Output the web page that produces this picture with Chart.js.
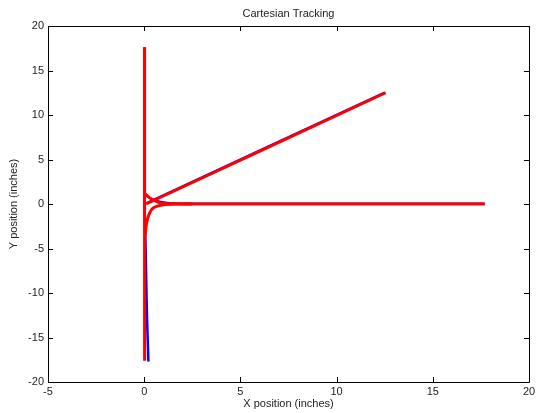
<!DOCTYPE html>
<html>
<head>
<meta charset="utf-8">
<script src="https://cdn.jsdelivr.net/npm/chart.js@4.4.0/dist/chart.umd.min.js"></script>
<style>
html,body{margin:0;padding:0;background:#fff;}
#wrap{width:543px;height:413px;}
</style>
</head>
<body>
<div id="wrap"><canvas id="c" width="543" height="413"></canvas></div>
<script>
// Data
const chartTitle = "Cartesian Tracking";
const xTitle = "X position (inches)";
const yTitle = "Y position (inches)";
const xTicks = [-5, 0, 5, 10, 15, 20];
const yTicks = [-20, -15, -10, -5, 0, 5, 10, 15, 20];

// Red (measured) paths
const redVertX = [0.02, 0.02, 0.02];
const redVertY = [-17.6, 0, 17.6];
const redDiagX = [0.1, 12.55];
const redDiagY = [0.0, 12.5];
const redUpperX = [0.02, 0.25, 0.5, 0.85, 1.5, 2.5, 17.7];
const redUpperY = [1.2, 0.75, 0.42, 0.12, 0.02, 0.0, 0.0];
const redLowerX = [0.05, 0.12, 0.26, 0.5, 0.94, 1.8, 2.5];
const redLowerY = [-3.5, -2.2, -1.1, -0.4, -0.1, 0.0, 0.0];

// Blue (reference) paths, mostly hidden below the red ones
const blueVertX = [0.22, 0.15, 0.1, 0.06, 0.02, 0.02];
const blueVertY = [-17.7, -13, -8, -3.5, 0, 17.6];
const blueDiagX = [0.1, 12.5];
const blueDiagY = [0.1, 12.55];
const blueHorzX = [0.02, 0.5, 1.5, 2.5, 17.7];
const blueHorzY = [1.1, 0.45, 0.08, 0.06, 0.06];

function pts(xs, ys){ return xs.map((x,i)=>({x:x, y:ys[i]})); }

const FONT = "'Liberation Sans', Arial, sans-serif";

const boxPlugin = {
  id: 'boxPlugin',
  afterDraw(chart){
    const ctx = chart.ctx, a = chart.chartArea;
    const xs = chart.scales.x, ys = chart.scales.y;
    ctx.save();
    ctx.strokeStyle = '#000';
    ctx.lineWidth = 1;
    ctx.beginPath();
    ctx.rect(Math.round(a.left)+0.5, Math.round(a.top)+0.5, Math.round(a.right-a.left), Math.round(a.bottom-a.top));
    ctx.stroke();
    const L = 5;
    ctx.beginPath();
    xs.ticks.forEach(t=>{
      const p = Math.round(xs.getPixelForValue(t.value))+0.5;
      ctx.moveTo(p, a.bottom); ctx.lineTo(p, a.bottom-L);
      ctx.moveTo(p, a.top); ctx.lineTo(p, a.top+L);
    });
    ys.ticks.forEach(t=>{
      const p = Math.round(ys.getPixelForValue(t.value))+0.5;
      ctx.moveTo(a.left, p); ctx.lineTo(a.left+L, p);
      ctx.moveTo(a.right, p); ctx.lineTo(a.right-L, p);
    });
    ctx.stroke();
    // titles
    ctx.fillStyle = '#222';
    ctx.font = '11px ' + FONT;
    ctx.textAlign = 'center';
    ctx.textBaseline = 'middle';
    ctx.fillText(chartTitle, (a.left+a.right)/2, 14);
    ctx.fillText(xTitle, (a.left+a.right)/2, 404);
    ctx.translate(14, (a.top+a.bottom)/2);
    ctx.rotate(-Math.PI/2);
    ctx.fillText(yTitle, 0, 0);
    ctx.restore();
  }
};

function ds(data, color, width, order){
  return {data:data, borderColor:color, backgroundColor:color, borderWidth:width,
    showLine:true, pointRadius:0, tension:0.3, order:order, fill:false};
}

new Chart(document.getElementById('c'), {
  type:'scatter',
  data:{datasets:[
    ds(pts(redVertX, redVertY), '#ff0000', 3, 0),
    ds(pts(redDiagX, redDiagY), '#ff0000', 3, 0),
    ds(pts(redUpperX, redUpperY), '#ff0000', 3, 0),
    ds(pts(redLowerX, redLowerY), '#ff0000', 3, 0),
    ds(pts(blueVertX, blueVertY), '#0000ff', 2.5, 1),
    ds(pts(blueDiagX, blueDiagY), '#0000ff', 2, 1),
    ds(pts(blueHorzX, blueHorzY), '#0000ff', 2, 1)
  ]},
  options:{
    responsive:false, animation:false,
    layout:{padding:{left:0, right:14, top:26, bottom:0}},
    plugins:{legend:{display:false}, tooltip:{enabled:false}, title:{display:false}},
    scales:{
      x:{type:'linear', min:-5, max:20,
        afterBuildTicks(s){ s.ticks = xTicks.map(v=>({value:v})); },
        afterFit(s){ s.height = 31; },
        grid:{display:false, drawTicks:false}, border:{display:false},
        ticks:{padding:3, color:'#222', font:{family:FONT, size:11}, maxRotation:0, autoSkip:false}
      },
      y:{type:'linear', min:-20, max:20,
        afterBuildTicks(s){ s.ticks = yTicks.map(v=>({value:v})); },
        afterFit(s){ s.width = 48; },
        grid:{display:false, drawTicks:false}, border:{display:false},
        ticks:{padding:4, color:'#222', font:{family:FONT, size:11}, autoSkip:false}
      }
    }
  },
  plugins:[boxPlugin]
});
</script>
</body>
</html>
